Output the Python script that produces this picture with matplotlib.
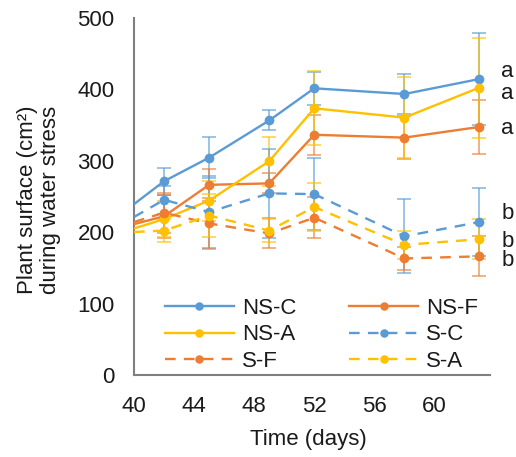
import matplotlib
matplotlib.use("Agg")
import matplotlib.pyplot as plt

plt.rcParams['font.family'] = ['Liberation Sans', 'DejaVu Sans']

# Days (first entry is the left-edge value where lines enter the axis)
days = [40, 42, 45, 49, 52, 58, 63]

ns_c = [239, 271, 304, 356, 401, 393, 414]
ns_f = [211, 222, 266, 268, 336, 332, 347]
ns_a = [205, 218, 244, 299, 373, 360, 402]
s_c = [221, 245, 228, 254, 253, 194, 214]
s_f = [214, 227, 212, 198, 220, 163, 166]
s_a = [200, 202, 223, 202, 235, 182, 190]

err_ns_c = [0, 19, 29, 14, 23, 28, 64]
err_ns_f = [0, 30, 22, 14, 28, 30, 38]
err_ns_a = [0, 25, 28, 34, 52, 57, 70]
err_s_c = [0, 20, 50, 62, 50, 52, 47]
err_s_f = [0, 28, 36, 21, 29, 16, 28]
err_s_a = [0, 16, 30, 16, 33, 20, 28]

letters = ["a", "a", "a", "b", "b", "b"]
letter_y = [424, 394, 345, 226, 187, 160]

blue = "#5B9BD5"
orange = "#ED7D31"
yellow = "#FFC000"
dash = (0, (4.5, 3.5))

series = [
    ("NS-C", ns_c, err_ns_c, blue, "-"),
    ("NS-F", ns_f, err_ns_f, orange, "-"),
    ("NS-A", ns_a, err_ns_a, yellow, "-"),
    ("S-C", s_c, err_s_c, blue, dash),
    ("S-F", s_f, err_s_f, orange, dash),
    ("S-A", s_a, err_s_a, yellow, dash),
]

FS = 16
txt = '#1a1a1a'

fig = plt.figure(figsize=(5.16, 4.57), dpi=100)
ax = fig.add_axes([0.2597, 0.1794, 0.6899, 0.7823])

handles = {}
for name, vals, errs, col, ls in series:
    ax.errorbar(days[1:], vals[1:], yerr=errs[1:], fmt='none', ecolor=col,
                elinewidth=1.2, capsize=5, capthick=1.2, alpha=0.7, zorder=2)
    ln, = ax.plot(days, vals, color=col, linestyle=ls, linewidth=1.7,
                  marker='o', markersize=6, markevery=list(range(1, len(days))),
                  zorder=3)
    handles[name] = ln

ax.set_xlim(40, 63.7)
ax.set_ylim(0, 500)
ax.set_xticks([40, 44, 48, 52, 56, 60])
ax.set_yticks([0, 100, 200, 300, 400, 500])
ax.tick_params(axis='both', length=0, labelsize=FS, colors=txt)
ax.tick_params(axis='y', pad=14)
ax.tick_params(axis='x', pad=15)
for s in ['top', 'right']:
    ax.spines[s].set_visible(False)
for s in ['left', 'bottom']:
    ax.spines[s].set_color('#7f7f7f')
    ax.spines[s].set_linewidth(1.5)

fig.text(308 / 516, 1 - 440 / 457, "Time (days)", fontsize=FS, color=txt,
         ha='center', va='center')
fig.text(39 / 516, 1 - 200 / 457, "Plant surface (cm²)\nduring water stress",
         fontsize=FS, color=txt, ha='center', va='center', rotation=90,
         linespacing=1.15)

for lt, ly in zip(letters, letter_y):
    ax.text(64.45, ly, lt, fontsize=FS, va='center', ha='left',
            clip_on=False, color=txt)

order = ["NS-C", "NS-A", "S-F", "NS-F", "S-C", "S-A"]
leg = ax.legend([handles[k] for k in order], order, ncol=2, frameon=False,
                loc='upper left', bbox_to_anchor=(0.087, 0.216),
                borderpad=0, borderaxespad=0,
                handlelength=3.1, handletextpad=0.35, columnspacing=2.4,
                labelspacing=0.25, fontsize=FS, markerscale=0.85)
for t in leg.get_texts():
    t.set_color(txt)

fig.savefig("out.png", dpi=100)
